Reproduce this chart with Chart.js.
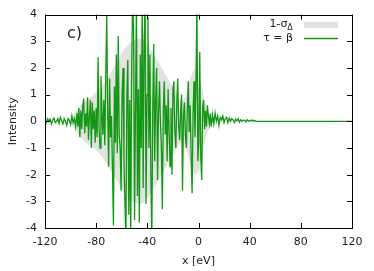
<!DOCTYPE html>
<html>
<head>
<meta charset="utf-8">
<script src="https://cdn.jsdelivr.net/npm/chart.js@4"></script>
<style>
  html, body { margin: 0; padding: 0; background: #fff; }
  #wrap { width: 374px; height: 271px; }
</style>
</head>
<body>
<div id="wrap"><canvas id="graph" width="374" height="271"></canvas></div>
<script>
// x ticks and y ticks
const xTicks = [-120, -80, -40, 0, 40, 80, 120];
const yTicks = [-4, -3, -2, -1, 0, 1, 2, 3, 4];

// gray band 1-sigma (upper edge, lower edge is mirrored)
const bandX  = [-101, -97, -93, -88, -82, -76, -70, -64, -58, -52, -46, -42, -36, -30, -24, -18, -14, -11, -7, -4, -2, 1, 4, 7, 10, 12];
const bandHi = [0, 0.3, 0.55, 0.8, 1.0, 1.3, 1.7, 2.2, 2.7, 3.0, 3.1, 3.0, 2.6, 2.1, 1.6, 1.1, 0.8, 0.85, 1.5, 1.9, 2.0, 1.7, 1.0, 0.4, 0.1, 0];

// tau = beta : left tail (-120..-96, 1 eV)
const tailLeftX = [-120, -119, -118, -117, -116, -115, -114, -113, -112, -111, -110, -109, -108, -107, -106, -105, -104, -103, -102, -101, -100, -99, -98, -97, -96];
const tailLeftY = [0.05, -0.05, 0.1, 0.0, 0.08, -0.1, 0.05, 0.12, -0.05, 0.0, 0.1, -0.08, 0.15, 0.02, -0.1, 0.1, 0.0, -0.15, 0.1, 0.05, -0.12, 0.2, -0.05, 0.1, -0.2];

// main part, from -95 eV in 0.75 eV steps
const mainStart = -95;
const mainStep = 0.75;
const mainY = [
  0.3, -0.2, 0.5, -0.6,   0.4, -0.3, 0.6, 0.85,   -0.45, 0.3, -0.2, 0.9,
  -0.7, 0.2, 0.8, -1.0,   0.7, -0.3, 0.4, -0.8,   0.5, -0.6, 2.4, -0.2,
  -1.0, 1.7, 0.3, -0.5,   0.8, -0.9, 1.7, 3.95,   0.4, -1.7, 1.6, -0.6,
  0.2, -1.8, -3.9, 1.3,   -0.8, 2.5, -1.2, 3.2,   -0.5, -1.0, -2.6, 1.0,
  2.0, -1.5, -3.1, -4.5,  1.0, 2.3, -3.5, 0.8,    -4.5, 2.0, 4.5, 3.5,
  -3.7, 0.5, 4.5, -2.8,   1.2, -3.8, 2.5, -1.0,   4.5, -2.5, 3.0, 4.5,
  -3.1, 1.0, 3.9, -1.0,   2.5, -2.0, -4.5, 0.5,   2.9, -1.5, 0.8, 2.0,
  -2.2, 0.3, 1.5, 0.0,    -1.0, -3.3, 0.4, 1.5,   -0.5, 0.6, -1.5, 1.2,
  -0.3, -1.7, 0.5, -2.0,  1.2, 1.5, -0.4, -1.0,   0.6, 1.6, -0.2, -0.7,
  0.3, 1.0, -2.6, 0.2,    0.7, -0.5, -1.0, 0.4,   1.5, -0.4, 0.6, -1.3,
  -2.7, 0.3, 1.5, -0.6,   1.3, 4.5, -1.5, -0.8,   2.6, -1.3, -2.2, 0.5,
  0.8, -0.3, 0.4, -0.2,   0.6, 0.2, -0.1, 0.3,    -0.2
];

// right tail (11..45, 1 eV) then flat
const tailRightX = [11, 12, 13, 14, 15, 16, 17, 18, 19, 20, 21, 22, 23, 24, 25, 26, 27, 28, 29, 30, 31, 32, 33, 34, 35, 36, 37, 38, 39, 40, 41, 42, 43, 44, 45, 120];
const tailRightY = [0.25, -0.1, 0.3, 0.0, 0.2, -0.15, 0.15, 0.05, 0.2, -0.05, 0.1, 0.15, -0.05, 0.12, 0.0, 0.1, 0.05, -0.05, 0.08, 0.02, 0.1, -0.03, 0.06, 0.0, 0.05, 0.03, -0.02, 0.06, 0.0, 0.04, 0.01, 0.05, 0.0, 0.03, 0.0, 0.0];

const green = '#129812';
const bandColor = '#e2e2e2';
const textColor = '#222';
const fontFamily = '"DejaVu Sans", sans-serif';

const lineData = [];
tailLeftX.forEach((x, i) => lineData.push({x: x, y: tailLeftY[i]}));
mainY.forEach((y, i) => lineData.push({x: mainStart + i * mainStep, y: y}));
tailRightX.forEach((x, i) => lineData.push({x: x, y: tailRightY[i]}));

const bandUpper = bandX.map((x, i) => ({x: x, y: bandHi[i]}));
const bandLower = bandX.map((x, i) => ({x: x, y: -bandHi[i]}));

// frame + inward ticks on all sides, panel label and legend
const framePlugin = {
    id: 'frame',
    afterDraw(chart) {
        const ctx = chart.ctx;
        const a = chart.chartArea;
        const xs = chart.scales.x;
        const ys = chart.scales.y;
        ctx.save();
        ctx.strokeStyle = '#000';
        ctx.lineWidth = 1;
        ctx.strokeRect(Math.round(a.left) + 0.5, Math.round(a.top) + 0.5,
            Math.round(a.right - a.left), Math.round(a.bottom - a.top));
        ctx.beginPath();
        const tl = 5;
        xTicks.forEach((v) => {
            const px = Math.round(xs.getPixelForValue(v)) + 0.5;
            ctx.moveTo(px, a.bottom); ctx.lineTo(px, a.bottom - tl);
            ctx.moveTo(px, a.top); ctx.lineTo(px, a.top + tl);
        });
        yTicks.forEach((v) => {
            const py = Math.round(ys.getPixelForValue(v)) + 0.5;
            ctx.moveTo(a.left, py); ctx.lineTo(a.left + tl, py);
            ctx.moveTo(a.right, py); ctx.lineTo(a.right - tl, py);
        });
        ctx.stroke();

        // panel label
        ctx.fillStyle = textColor;
        ctx.font = '16px ' + fontFamily;
        ctx.textAlign = 'left';
        ctx.textBaseline = 'middle';
        ctx.fillText('c)', 67, 34);

        // legend
        ctx.font = '11px ' + fontFamily;
        ctx.textAlign = 'right';
        const tx = 293;
        const dW = ctx.measureText('Δ').width * 0.75;
        ctx.fillText('1-σ', tx - dW, 24);
        ctx.font = '8px ' + fontFamily;
        ctx.textAlign = 'left';
        ctx.fillText('Δ', tx - dW, 28);
        ctx.font = '11px ' + fontFamily;
        ctx.textAlign = 'right';
        ctx.fillText('τ = β', tx, 38);
        ctx.fillStyle = bandColor;
        ctx.fillRect(304, 22, 34, 6);
        ctx.strokeStyle = green;
        ctx.lineWidth = 1.3;
        ctx.beginPath();
        ctx.moveTo(304, 38.5); ctx.lineTo(338, 38.5);
        ctx.stroke();
        ctx.restore();
    }
};

new Chart(document.getElementById('graph'), {
    type: 'line',
    data: {
        datasets: [
            {
                label: 'τ = β',
                data: lineData,
                borderColor: green,
                borderWidth: 1.3,
                pointRadius: 0,
                fill: false,
                clip: 0,
                order: 0
            },
            {
                label: '1-σΔ upper',
                data: bandUpper,
                borderWidth: 0,
                pointRadius: 0,
                backgroundColor: bandColor,
                fill: '+1',
                tension: 0.3,
                clip: 0,
                order: 1
            },
            {
                label: '1-σΔ lower',
                data: bandLower,
                borderWidth: 0,
                pointRadius: 0,
                backgroundColor: bandColor,
                fill: false,
                tension: 0.3,
                clip: 0,
                order: 2
            }
        ]
    },
    options: {
        responsive: false,
        animation: false,
        layout: { padding: { top: 14, right: 22, left: 0, bottom: 0 } },
        plugins: {
            legend: { display: false },
            tooltip: { enabled: false },
            filler: { drawTime: 'beforeDatasetsDraw' }
        },
        scales: {
            x: {
                type: 'linear',
                min: -120,
                max: 120,
                afterBuildTicks: (s) => { s.ticks = xTicks.map((v) => ({value: v})); },
                afterFit: (s) => { s.height = 43; },
                grid: { display: false, drawTicks: false },
                border: { display: false },
                ticks: {
                    padding: 8,
                    color: textColor,
                    font: { family: fontFamily, size: 11 },
                    maxRotation: 0
                },
                title: {
                    display: true,
                    text: 'x [eV]',
                    color: textColor,
                    font: { family: fontFamily, size: 11 },
                    padding: { top: 0, bottom: 3 }
                }
            },
            y: {
                min: -4,
                max: 4,
                afterBuildTicks: (s) => { s.ticks = yTicks.map((v) => ({value: v})); },
                afterFit: (s) => { s.width = 45; },
                grid: { display: false, drawTicks: false },
                border: { display: false },
                ticks: {
                    padding: 8,
                    color: textColor,
                    font: { family: fontFamily, size: 11 }
                },
                title: {
                    display: true,
                    text: 'Intensity',
                    color: textColor,
                    font: { family: fontFamily, size: 11 },
                    padding: { top: 7, bottom: 0 }
                }
            }
        }
    },
    plugins: [framePlugin]
});
</script>
</body>
</html>
